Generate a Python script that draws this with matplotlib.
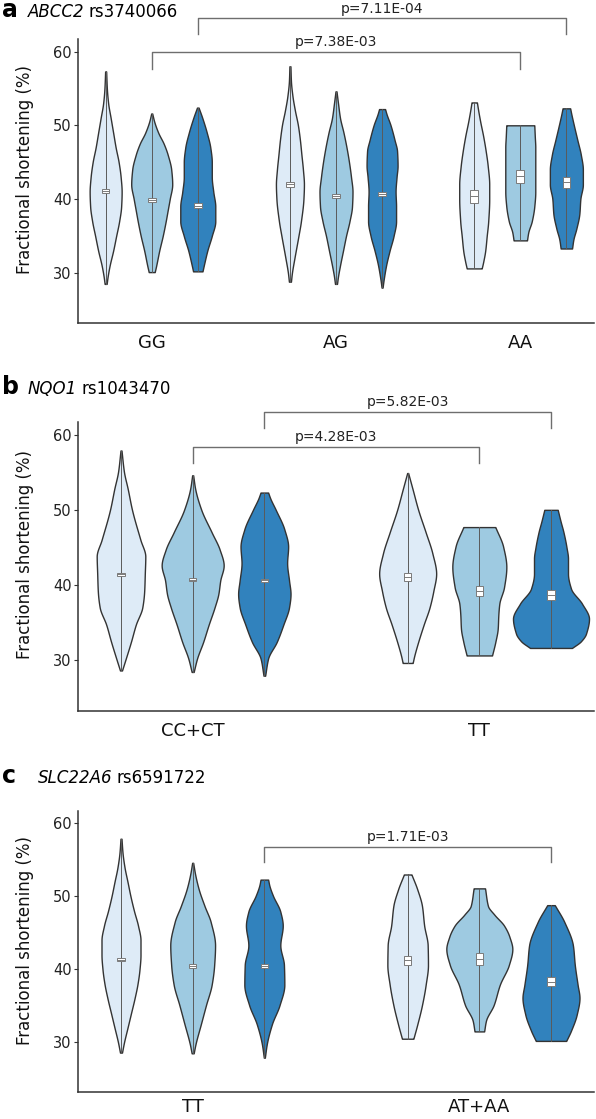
import numpy as np
import matplotlib
matplotlib.use("Agg")
import matplotlib.pyplot as plt
from matplotlib.patches import Rectangle

# ---------------- data ----------------
A_GROUPS = ["GG", "AG", "AA"]
B_GROUPS = ["CC+CT", "TT"]
C_GROUPS = ["TT", "AT+AA"]

A_TITLE = ("ABCC2", "rs3740066")
B_TITLE = ("NQO1", "rs1043470")
C_TITLE = ("SLC22A6", "rs6591722")

COLORS = ["#DEEBF7", "#9ECAE1", "#3182BD"]

# violin profiles: value (FS %) and half-width (relative density, px-equivalent)
A_GG1_Y = [28.5, 29.5, 31, 33, 35, 37, 39, 41, 43, 45, 47, 49, 51, 53, 55, 57.3]
A_GG1_W = [1, 2, 4, 7.5, 10.5, 13.5, 15.5, 16, 15, 13, 10, 7.5, 5, 2.5, 1.2, 0.5]
A_GG2_Y = [30.1, 31, 33, 35, 37, 38.5, 40, 42, 44, 46, 47.5, 49, 50.5, 51.6]
A_GG2_W = [3, 4.5, 7.5, 11, 14, 16, 18, 20.5, 19.5, 16, 12, 6.5, 2.5, 0.5]
A_GG3_Y = [30.2, 31, 33, 35, 37, 39, 41, 43, 45, 47, 49, 51, 52.4]
A_GG3_W = [4.7, 6, 9.5, 14, 17.5, 17.5, 15.5, 14, 14, 12.5, 9, 4.5, 0.8]
A_AG1_Y = [28.8, 30, 32, 35, 37, 40, 42, 44, 46, 48, 50, 52, 54, 56, 58]
A_AG1_W = [1, 2, 4.5, 8.5, 11, 13.5, 14, 13, 11.5, 10, 8, 5, 2.5, 1, 0.5]
A_AG2_Y = [28.5, 29.5, 31, 33, 35, 37, 39, 41, 43, 45, 47, 49, 51, 53, 54.6]
A_AG2_W = [1, 2, 4, 7, 10, 13.5, 16, 16.5, 15, 13, 10.5, 7.5, 4, 2, 0.5]
A_AG3_Y = [28.0, 29, 31, 33, 35, 37, 39, 41, 43, 44.5, 46.5, 48, 50, 51.5, 52.2]
A_AG3_W = [0.5, 1.5, 4, 7.5, 11.5, 14, 14, 13.5, 14.5, 15.5, 15, 12.5, 8.5, 4.5, 3]
A_AA1_Y = [30.6, 31.5, 33, 35, 37, 40, 42, 44.5, 46.5, 48.5, 50.5, 52, 53.1]
A_AA1_W = [7.5, 9, 11, 12.5, 14, 15, 15, 13.5, 11.5, 9, 6, 4, 2.7]
A_AA2_Y = [34.4, 35.5, 37, 39, 41, 43, 45, 47, 48.5, 50]
A_AA2_W = [6.7, 8, 11.5, 14, 15, 15, 15, 15, 14.5, 14]
A_AA3_Y = [33.3, 34.5, 36, 38, 40, 42, 44, 46, 48, 50, 51.5, 52.3]
A_AA3_W = [5.7, 7, 10, 13, 14, 16.5, 16.5, 14.5, 11, 7.5, 5, 3.8]

B_CC1_Y = [28.6, 30.2, 32.4, 34.7, 37, 39.2, 41.5, 43.8, 46, 50, 52.8, 55.1, 57.9]
B_CC1_W = [1, 4.8, 9.9, 14.8, 21.3, 23.2, 23.8, 24.3, 19.4, 11, 6.7, 2.9, 0.5]
B_CC2_Y = [28.4, 30.2, 32.4, 34.7, 37, 38.8, 40.6, 42.6, 44.7, 47, 50, 52.8, 54.6]
B_CC2_W = [1, 4.4, 10.5, 16, 21.9, 25.7, 27.6, 31, 27, 19, 8.6, 2.5, 0.5]
B_CC3_Y = [27.9, 30.2, 32.4, 34.7, 37, 38.8, 40.6, 42.9, 45.1, 47.4, 50, 51.5, 52.3]
B_CC3_W = [0.8, 3.8, 12.4, 19, 24.7, 26.2, 24.7, 22.8, 23.8, 20, 11.4, 6, 3.8]
B_TT1_Y = [29.6, 30.5, 32.4, 34.7, 37, 39.2, 41.5, 44.2, 47, 50, 52.8, 54.9]
B_TT1_W = [5, 6.5, 10.5, 16, 21.9, 25.7, 28.5, 24.7, 18, 10.5, 4.8, 0.5]
B_TT2_Y = [30.6, 32.4, 34.2, 36, 37.5, 39.7, 42.4, 45.1, 47.7]
B_TT2_W = [12.7, 16, 18.4, 19, 20, 24.7, 27, 23.8, 16]
B_TT3_Y = [31.6, 32.5, 33.5, 35.5, 37.5, 39.5, 41.5, 43.5, 45, 47, 48.5, 50]
B_TT3_W = [21, 30, 35, 38, 31, 20, 17, 17, 15.5, 12.5, 9.5, 6.7]

C_TT1_Y = [28.6, 30, 32, 34, 36, 38, 40, 42, 44, 46, 48, 50, 52, 54, 56, 57.9]
C_TT1_W = [1, 3, 6.5, 10, 13.5, 16.5, 18.5, 19.5, 19.5, 17, 13, 9.5, 6.5, 3.5, 1.5, 0.5]
C_TT2_Y = [28.5, 29.8, 32.5, 35.1, 37.9, 40.6, 43.3, 46.5, 48.7, 51, 53, 54.6]
C_TT2_W = [1, 2.9, 8.2, 13.3, 19, 21.5, 22.4, 18, 11.8, 6, 2.5, 0.5]
C_TT3_Y = [27.9, 29.8, 32.5, 35.1, 37.9, 40.6, 43.3, 46, 47.9, 50.1, 51.5, 52.3]
C_TT3_W = [0.5, 2.5, 7.6, 15.2, 20, 19.6, 16, 18.4, 16, 8.6, 5, 3.8]
C_AT1_Y = [30.5, 32.4, 35.1, 37.9, 40.6, 43.3, 46, 48.7, 51, 53]
C_AT1_W = [5.7, 9.5, 14.3, 18, 20.3, 20, 16.5, 14.3, 9.5, 3.8]
C_AT2_Y = [31.5, 33, 35.1, 37.9, 40.6, 42.8, 44.5, 46, 47.5, 48.7, 51.1]
C_AT2_W = [4.8, 6.7, 14.3, 20.5, 29.5, 33, 30, 24.7, 15, 8.6, 5.7]
C_AT3_Y = [30.2, 31.6, 33.8, 36.1, 37.9, 40.6, 43.3, 46.5, 48.8]
C_AT3_W = [15.2, 20, 25.7, 28.5, 26.6, 23.8, 21.9, 13.3, 3.8]

# medians and small box limits (per group, per series)
A_MED = [[41.1, 39.9, 39.1], [42.0, 40.4, 40.7], [40.4, 43.1, 42.3]]
A_BOX_LO = [[40.8, 39.6, 38.8], [41.7, 40.1, 40.4], [39.5, 42.2, 41.5]]
A_BOX_HI = [[41.4, 40.2, 39.4], [42.3, 40.7, 41.0], [41.2, 44.0, 43.0]]
B_MED = [[41.4, 40.7, 40.6], [41.0, 39.2, 38.6]]
B_BOX_LO = [[41.2, 40.5, 40.4], [40.5, 38.5, 38.0]]
B_BOX_HI = [[41.6, 40.9, 40.8], [41.6, 39.9, 39.3]]
C_MED = [[41.3, 40.4, 40.4], [41.3, 41.4, 38.3]]
C_BOX_LO = [[41.1, 40.2, 40.2], [40.6, 40.6, 37.7]]
C_BOX_HI = [[41.6, 40.7, 40.7], [41.9, 42.2, 39.0]]

# significance brackets: (group_a, series_a, group_b, series_b, y_bar, y_drop, label, y_text)
A_BRACKETS = [(0, 1, 2, 1, 59.9, 57.7, "p=7.38E-03", 61.3),
              (0, 2, 2, 2, 64.5, 62.4, "p=7.11E-04", 65.8)]
B_BRACKETS = [(0, 1, 1, 1, 58.4, 56.2, "p=4.28E-03", 59.7),
              (0, 2, 1, 2, 63.0, 60.9, "p=5.82E-03", 64.4)]
C_BRACKETS = [(0, 2, 1, 2, 56.8, 54.7, "p=1.71E-03", 58.1)]

A_PROFILES = [[(A_GG1_Y, A_GG1_W), (A_GG2_Y, A_GG2_W), (A_GG3_Y, A_GG3_W)],
              [(A_AG1_Y, A_AG1_W), (A_AG2_Y, A_AG2_W), (A_AG3_Y, A_AG3_W)],
              [(A_AA1_Y, A_AA1_W), (A_AA2_Y, A_AA2_W), (A_AA3_Y, A_AA3_W)]]
B_PROFILES = [[(B_CC1_Y, B_CC1_W), (B_CC2_Y, B_CC2_W), (B_CC3_Y, B_CC3_W)],
              [(B_TT1_Y, B_TT1_W), (B_TT2_Y, B_TT2_W), (B_TT3_Y, B_TT3_W)]]
C_PROFILES = [[(C_TT1_Y, C_TT1_W), (C_TT2_Y, C_TT2_W), (C_TT3_Y, C_TT3_W)],
              [(C_AT1_Y, C_AT1_W), (C_AT2_Y, C_AT2_W), (C_AT3_Y, C_AT3_W)]]

Y_TICKS = [30, 40, 50, 60]
Y_LIM = (23.2, 61.7)
DODGE = 0.25

# ---------------- drawing ----------------
W, H = 596, 1119
plt.rcParams["font.family"] = ["DejaVu Sans"]
fig = plt.figure(figsize=(W / 100, H / 100), dpi=100)


def smooth(ys, ws, n=300):
    ys = np.asarray(ys, float)
    ws = np.asarray(ws, float)
    d = np.diff(ws) / np.diff(ys)
    m = np.zeros_like(ws)
    m[0], m[-1] = d[0], d[-1]
    for k in range(1, len(ws) - 1):
        if d[k - 1] * d[k] <= 0:
            m[k] = 0.0
        else:
            m[k] = 2.0 / (1.0 / d[k - 1] + 1.0 / d[k])
    yy = np.linspace(ys[0], ys[-1], n)
    idx = np.clip(np.searchsorted(ys, yy, side="right") - 1, 0, len(ys) - 2)
    h = ys[idx + 1] - ys[idx]
    t = (yy - ys[idx]) / h
    h00 = 2 * t**3 - 3 * t**2 + 1
    h10 = t**3 - 2 * t**2 + t
    h01 = -2 * t**3 + 3 * t**2
    h11 = t**3 - t**2
    w = h00 * ws[idx] + h10 * h * m[idx] + h01 * ws[idx + 1] + h11 * h * m[idx + 1]
    return yy, np.clip(w, 0, None)


def panel(rect_px, groups, profiles, med, blo, bhi, brackets, letter, gene, snp,
          title_base_px, gene_x_px, xpad):
    left, right, top, bottom = rect_px
    ax = fig.add_axes([left / W, 1 - bottom / H, (right - left) / W, (bottom - top) / H])
    n = len(groups)
    ax.set_xlim(-0.4, n - 1 + 0.4)
    ax.set_ylim(*Y_LIM)
    ppu = (right - left) / (n - 1 + 0.8)   # pixels per x data unit
    s = 1.0 / ppu
    for gi in range(n):
        for si in range(3):
            c = gi + (si - 1) * DODGE
            ys, ws = profiles[gi][si]
            yy, ww = smooth(ys, ws)
            ax.fill_betweenx(yy, c - ww * s, c + ww * s, facecolor=COLORS[si],
                             edgecolor="#333333", linewidth=1.0, zorder=2)
            ax.plot([c, c], [ys[0], ys[-1]], color="#5a5a5a", lw=0.7, zorder=3)
            bw = 3.8 * s
            ax.add_patch(Rectangle((c - bw, blo[gi][si]), 2 * bw, bhi[gi][si] - blo[gi][si],
                                   facecolor="white", edgecolor="#7a7a7a", lw=0.7, zorder=4))
            ax.plot([c - bw, c + bw], [med[gi][si]] * 2, color="#7a7a7a", lw=0.7, zorder=5)
    for (ga, sa, gb, sb, yb, yd, lab, yt) in brackets:
        xa = ga + (sa - 1) * DODGE
        xb = gb + (sb - 1) * DODGE
        ax.plot([xa, xa, xb, xb], [yd, yb, yb, yd], color="#6e6e6e", lw=1.0,
                clip_on=False, zorder=6)
        ax.text((xa + xb) / 2, yt, lab, ha="center", va="center", fontsize=10,
                color="#222222", clip_on=False)
    for sp in ["top", "right"]:
        ax.spines[sp].set_visible(False)
    for sp in ["left", "bottom"]:
        ax.spines[sp].set_color("#333333")
        ax.spines[sp].set_linewidth(1.1)
    ax.set_yticks(Y_TICKS)
    ax.set_yticklabels([str(v) for v in Y_TICKS], fontsize=10.5, color="#222222")
    ax.tick_params(axis="y", length=3, width=0.8, color="#333333", pad=1.5)
    ax.set_xticks(range(n))
    ax.set_xticklabels(groups, fontsize=13, color="#111111")
    ax.tick_params(axis="x", length=0, pad=xpad)
    ax.set_ylabel("Fractional shortening (%)", fontsize=12, color="#111111")
    ax.yaxis.set_label_coords((34 - left) / (right - left), 0.54)
    fig.text(2 / W, 1 - title_base_px / H, letter, fontsize=17, fontweight="bold",
             va="baseline", ha="left")
    fig.text(gene_x_px / W, 1 - title_base_px / H, gene, fontsize=12, style="italic",
             va="baseline", ha="left")
    t = fig.text(gene_x_px / W, 1 - title_base_px / H, gene, fontsize=12, style="italic",
                 va="baseline", ha="left", alpha=0)
    fig.canvas.draw()
    bb = t.get_window_extent()
    fig.text((bb.x1 + 4) / W, 1 - title_base_px / H, snp, fontsize=12,
             va="baseline", ha="left")
    return ax


panel((78, 594, 39, 323), A_GROUPS, A_PROFILES, A_MED, A_BOX_LO, A_BOX_HI, A_BRACKETS,
      "a", A_TITLE[0], A_TITLE[1], 17, 28, 8)
panel((78, 594, 422, 711), B_GROUPS, B_PROFILES, B_MED, B_BOX_LO, B_BOX_HI, B_BRACKETS,
      "b", B_TITLE[0], B_TITLE[1], 394, 28, 8)
panel((78, 594, 811, 1092), C_GROUPS, C_PROFILES, C_MED, C_BOX_LO, C_BOX_HI, C_BRACKETS,
      "c", C_TITLE[0], C_TITLE[1], 783, 38, 4)

fig.savefig("out.png", dpi=100)
